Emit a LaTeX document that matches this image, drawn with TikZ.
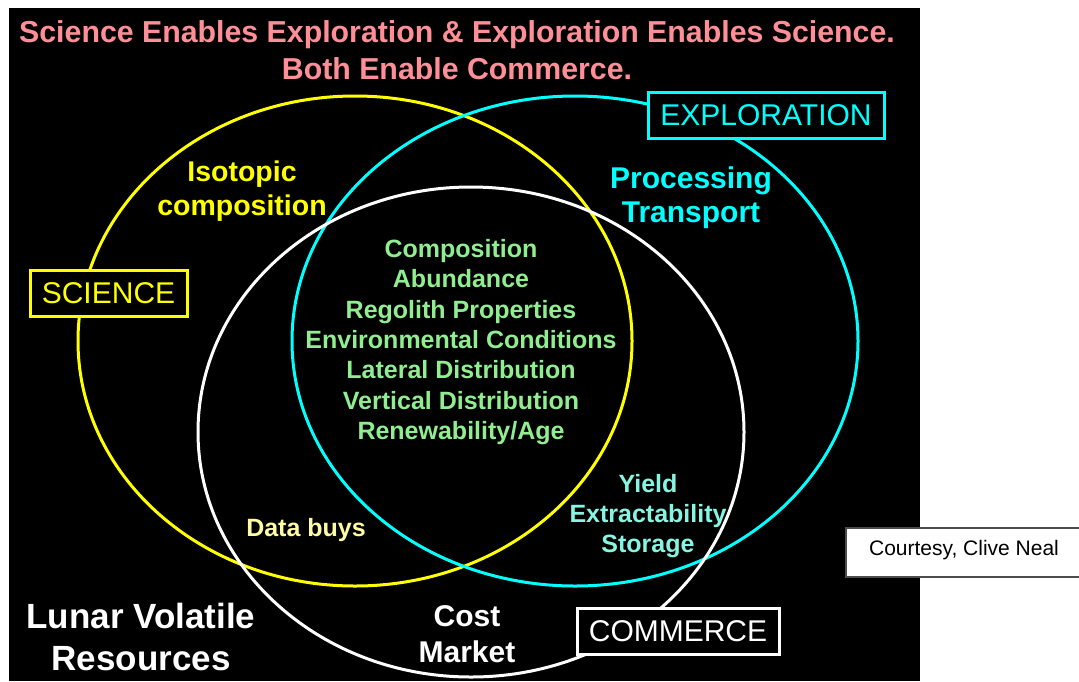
\documentclass[tikz,border=0pt]{standalone}
\usepackage{fontspec}
\setmainfont{Liberation Sans}

\definecolor{titlepink}{RGB}{255,143,150}
\definecolor{sciyellow}{RGB}{255,255,0}
\definecolor{expcyan}{RGB}{0,255,255}
\definecolor{coregreen}{RGB}{144,238,144}
\definecolor{yieldcyan}{RGB}{135,245,225}
\definecolor{datayellow}{RGB}{255,250,165}

\begin{document}
\begin{tikzpicture}[x=1pt, y=-1pt,
  lbl/.style={inner sep=0pt, align=center, font=\bfseries},
  setbox/.style={draw=#1, text=#1, fill=black, line width=3pt, inner sep=0pt, minimum height=46pt, font=\fontsize{30}{36}\selectfont}
]

% Page and black panel
\useasboundingbox (0,0) rectangle (1079,681);
\fill[white] (0,0) rectangle (1079,681);
\fill[black] (9,8) rectangle (920,681);

% Draw the three sets
\draw[sciyellow, line width=3pt] (355,341) ellipse [x radius=277, y radius=245];
\draw[expcyan, line width=3pt] (575,341) ellipse [x radius=283, y radius=245];
\draw[white, line width=3pt] (471,432) ellipse [x radius=273, y radius=245];

% Title
\node[lbl, titlepink, font=\bfseries\fontsize{30.3}{37}\selectfont] (title) at (457,50)
  {Science Enables Exploration \& Exploration Enables Science.\\Both Enable Commerce.};

% Set labels
\node[setbox=sciyellow, minimum width=157pt] (science) at (108.5,293) {SCIENCE};
\node[setbox=expcyan, minimum width=236pt] (exploration) at (766,115) {EXPLORATION};
\node[setbox=white, minimum width=202pt] (commerce) at (678,631.5) {COMMERCE};

% Region texts
\node[lbl, sciyellow, font=\bfseries\fontsize{28.5}{34}\selectfont] (isotopic) at (242,191) {Isotopic\\composition};
\node[lbl, expcyan, font=\bfseries\fontsize{30}{34}\selectfont] (processing) at (691,198) {Processing\\Transport};
\node[lbl, coregreen, font=\bfseries\fontsize{25}{30.3}\selectfont] (core) at (461,342)
  {Composition\\Abundance\\Regolith Properties\\Environmental Conditions\\Lateral Distribution\\Vertical Distribution\\Renewability/Age};
\node[lbl, yieldcyan, font=\bfseries\fontsize{25}{30}\selectfont] (yield) at (648,516) {Yield\\Extractability\\Storage};
\node[lbl, datayellow, font=\bfseries\fontsize{25}{30}\selectfont] (databuys) at (306,530) {Data buys};
\node[lbl, white, font=\bfseries\fontsize{30}{36}\selectfont] (cost) at (467,634) {Cost\\Market};
\node[lbl, white, font=\bfseries\fontsize{35}{42}\selectfont] (lunar) at (141,637) {Lunar Volatile\\Resources};

% Credit box
\begin{scope}
  \clip (0,0) rectangle (1079,681);
  \draw[fill=white, draw=black!70, line width=1.5pt] (846,528) rectangle (1090,577);
\end{scope}
\node[inner sep=0pt, font=\fontsize{21}{25}\selectfont] (credit) at (964,550) {Courtesy, Clive Neal};

\end{tikzpicture}
\end{document}
